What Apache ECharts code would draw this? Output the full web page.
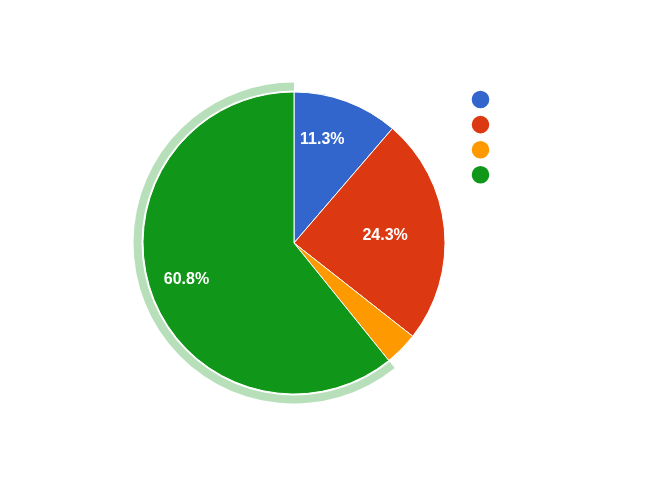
<!DOCTYPE html>
<html>
<head>
<meta charset="utf-8">
<script src="https://cdn.jsdelivr.net/npm/echarts@6/dist/echarts.min.js"></script>
<style>html,body{margin:0;padding:0;background:#fff}#c{width:652px;height:484px}</style>
</head>
<body>
<div id="c"></div>
<script>
// Data (percent shares, clockwise from 12 o'clock)
var categories = [' ', '  ', '   ', '    '];
var values = [11.3, 24.3, 3.6, 60.8];
var colors = ['#3366cc', '#dc3912', '#ff9900', '#109618'];
var highlightedIndex = 3;

var chart = echarts.init(document.getElementById('c'), null, {renderer: 'canvas'});

var nudges = [[1, -30], [13, 0.5], [0, 0], [-33.5, 10]];

var mainData = categories.map(function (n, i) {
  return {
    name: n,
    value: values[i],
    itemStyle: {color: colors[i]},
    label: {show: values[i] >= 5}
  };
});

var ringData = categories.map(function (n, i) {
  return {
    name: n,
    value: values[i],
    itemStyle: {
      color: i === highlightedIndex ? colors[i] : 'rgba(0,0,0,0)',
      opacity: i === highlightedIndex ? 0.3 : 0
    }
  };
});

chart.setOption({
  animation: false,
  color: colors,
  legend: {
    orient: 'vertical',
    left: 469.7,
    top: 88.7,
    padding: 0,
    icon: 'circle',
    itemWidth: 19.6,
    itemHeight: 19.6,
    itemGap: 3.5,
    data: categories.map(function (n, i) { return {name: n, itemStyle: {color: colors[i]}}; }),
    formatter: function () { return ''; },
    textStyle: {fontSize: 10, lineHeight: 10}
  },
  series: [
    {
      type: 'pie',
      center: [294, 243],
      radius: [0, 151],
      startAngle: 90,
      clockwise: true,
      avoidLabelOverlap: false,
      data: mainData,
      itemStyle: {borderColor: '#ffffff', borderWidth: 1},
      label: {
        position: 'inside',
        color: '#ffffff',
        fontFamily: 'Liberation Sans, Arial, sans-serif',
        fontWeight: 'bold',
        fontSize: 16,
        formatter: function (p) { return p.value.toFixed(1) + '%'; }
      },
      labelLine: {show: false},
      labelLayout: function (p) {
        var d = nudges[p.dataIndex];
        return {dx: d[0], dy: d[1]};
      },
      emphasis: {disabled: true}
    },
    {
      type: 'pie',
      center: [294, 243],
      radius: [152.5, 160.5],
      startAngle: 90,
      clockwise: true,
      silent: true,
      data: ringData,
      label: {show: false},
      labelLine: {show: false},
      emphasis: {disabled: true}
    }
  ]
});
</script>
</body>
</html>
